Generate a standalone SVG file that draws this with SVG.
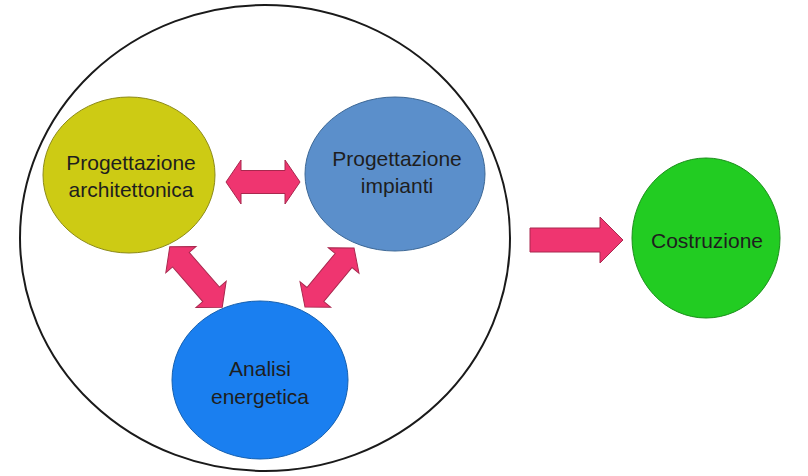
<svg xmlns="http://www.w3.org/2000/svg" width="808" height="476" viewBox="0 0 808 476">
<defs>
<style>
.lbl{font-family:"Liberation Sans","Open Sans",sans-serif;font-size:21px;fill:#1e1e1e;text-anchor:middle}
.arr{fill:#ef3570;stroke:#a8284e;stroke-width:1;stroke-linejoin:miter}
</style>
<polygon id="dbl" points="-40,0 -23,-20 -23,-11 23,-11 23,-20 40,0 23,20 23,11 -23,11 -23,20"/>
</defs>
<rect width="808" height="476" fill="#ffffff"/>
<g id="container">
<ellipse cx="265" cy="238" rx="245" ry="233" fill="none" stroke="#1a1a1a" stroke-width="2"/>
</g>
<g id="arch">
<ellipse cx="129" cy="175" rx="86" ry="78" fill="#cdcb14" stroke="#8c8a18" stroke-width="1"/>
<text class="lbl" x="131" y="170">Progettazione</text>
<text class="lbl" x="131" y="197">architettonica</text>
</g>
<g id="impianti">
<ellipse cx="395" cy="174" rx="90" ry="77" fill="#5b8fcb" stroke="#3d6896" stroke-width="1"/>
<text class="lbl" x="397" y="166">Progettazione</text>
<text class="lbl" x="397" y="193">impianti</text>
</g>
<g id="analisi">
<ellipse cx="260" cy="380" rx="88" ry="79" fill="#1a7ff0" stroke="#1560b0" stroke-width="1"/>
<text class="lbl" x="260" y="376">Analisi</text>
<text class="lbl" x="260" y="404">energetica</text>
</g>
<g id="costruzione">
<ellipse cx="706" cy="238" rx="74" ry="80" fill="#22cc22" stroke="#1a8f1a" stroke-width="1"/>
<text class="lbl" x="707" y="248">Costruzione</text>
</g>
<g id="connectors">
<polygon class="arr" points="226,182 241,160 241,170.5 285,170.5 285,160 300,182 285,204 285,193.5 241,193.5 241,204"/>
<use href="#dbl" class="arr" transform="translate(196,277) rotate(49)"/>
<use href="#dbl" class="arr" transform="translate(329.5,277.5) rotate(-50.3) scale(0.96,1)"/>
<polygon class="arr" points="530,228 600,228 600,217 623,240 600,263 600,252 530,252"/>
</g>
</svg>
